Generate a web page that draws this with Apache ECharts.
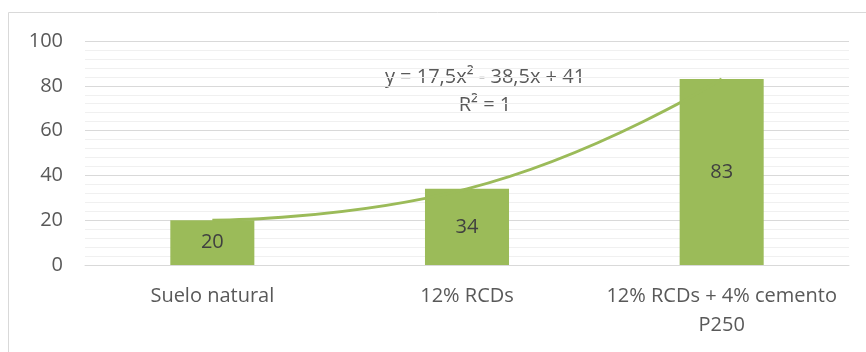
<!DOCTYPE html>
<html>
<head>
<meta charset="utf-8">
<script src="https://cdn.jsdelivr.net/npm/echarts@6/dist/echarts.min.js"></script>
<style>
  html, body { margin: 0; padding: 0; background: #fff; }
  #chart { width: 866px; height: 352px; }
</style>
</head>
<body>
<div id="chart"></div>
<script>
const categories = ['Suelo natural', '12% RCDs', '12% RCDs + 4% cemento\nP250']
const values = [20, 34, 83]
const yTicks = [0, 20, 40, 60, 80, 100]
const trendText = ['y = 17,5x² - 38,5x + 41', 'R² = 1']

const green = '#9BBB59'
const textColor = '#595959'
const font = 'Open Sans'

const chart = echarts.init(document.getElementById('chart'))
chart.setOption({
  animation: false,
  grid: { left: 85, right: 17, top: 41, bottom: 87 },
  graphic: [
    {
      type: 'rect',
      shape: { x: 8.5, y: 12.5, width: 900, height: 400 },
      style: { fill: 'none', stroke: '#d9d9d9', lineWidth: 1 },
      silent: true
    },
    {
      type: 'text',
      x: 485, y: 77,
      style: {
        text: trendText[0], fill: textColor, font: '20px "' + font + '"',
        align: 'center', verticalAlign: 'middle'
      }
    },
    {
      type: 'text',
      x: 485, y: 105,
      style: {
        text: trendText[1], fill: textColor, font: '20px "' + font + '"',
        align: 'center', verticalAlign: 'middle'
      }
    }
  ],
  xAxis: {
    type: 'category',
    data: categories,
    axisLine: { lineStyle: { color: '#d9d9d9' } },
    axisTick: { show: false },
    axisLabel: {
      color: textColor, fontFamily: font, fontSize: 20,
      margin: 17, lineHeight: 29, interval: 0
    }
  },
  yAxis: {
    type: 'value',
    min: yTicks[0],
    max: yTicks[yTicks.length - 1],
    interval: 20,
    axisLine: { show: false },
    axisTick: { show: false },
    axisLabel: { color: textColor, fontFamily: font, fontSize: 20, margin: 22 },
    splitLine: { lineStyle: { color: '#d9d9d9', width: 1 } },
    minorTick: { show: false, splitNumber: 5 },
    minorSplitLine: { show: true, lineStyle: { color: '#f0f0f0', width: 1 } }
  },
  series: [
    {
      type: 'bar',
      data: values,
      barWidth: '33%',
      itemStyle: { color: green },
      label: {
        show: true, position: 'inside', color: '#404040',
        fontFamily: font, fontSize: 20
      },
      z: 2
    },
    {
      type: 'line',
      data: values,
      smooth: 0.5,
      symbol: 'none',
      lineStyle: { color: green, width: 3 },
      z: 3
    }
  ]
})
</script>
</body>
</html>
